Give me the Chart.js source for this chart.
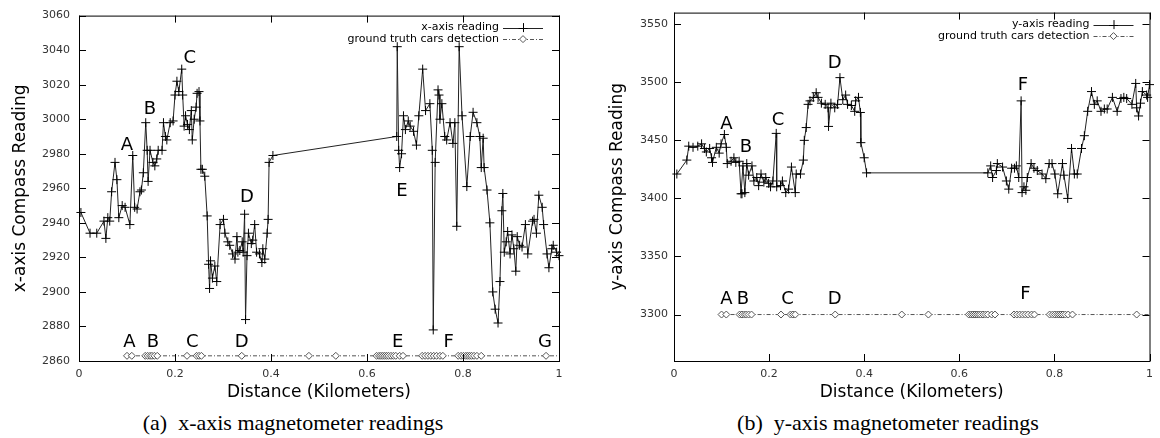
<!DOCTYPE html>
<html>
<head>
<meta charset="utf-8">
<script src="https://cdn.jsdelivr.net/npm/chart.js@4.4.1/dist/chart.umd.min.js"></script>
<style>
body { margin:0; background:#fff; width:1160px; height:438px; overflow:hidden; position:relative; }
.box { position:absolute; top:0; width:580px; height:405px; }
.cap { position:absolute; top:410px; width:580px; text-align:center; font-family:"Liberation Serif", "Times New Roman", serif; font-size:22px; color:#000; white-space:nowrap; }
</style>
</head>
<body>
<div class="box" style="left:0"><canvas id="chartX"></canvas></div>
<div class="box" style="left:580px"><canvas id="chartY"></canvas></div>
<div class="cap" style="left:3px">(a)&nbsp; x-axis magnetometer readings</div>
<div class="cap" style="left:598px">(b)&nbsp; y-axis magnetometer readings</div>
<script>
// x-axis magnetometer (distance km, reading)
const xDist = [0.004,0.023,0.037,0.052,0.056,0.060,0.064,0.068,0.075,0.079,0.083,0.090,0.096,0.106,0.112,0.116,0.121,0.127,0.130,0.134,
  0.139,0.142,0.144,0.148,0.154,0.158,0.162,0.165,0.173,0.176,0.180,0.183,0.190,0.196,0.200,0.204,0.208,0.214,0.216,0.219,
  0.222,0.226,0.230,0.234,0.236,0.240,0.244,0.246,0.250,0.252,0.254,0.257,0.262,0.267,0.270,0.272,0.274,0.278,0.283,0.287,
  0.294,0.301,0.304,0.310,0.314,0.320,0.325,0.329,0.331,0.335,0.340,0.342,0.345,0.347,0.350,0.353,0.359,0.362,0.366,0.370,
  0.376,0.381,0.383,0.387,0.392,0.394,0.396,0.404,
  0.662,0.663,0.666,0.668,0.672,0.676,0.680,0.686,0.690,0.697,0.703,0.708,0.716,0.722,0.731,0.736,0.738,0.742,0.748,0.750,
  0.752,0.756,0.762,0.766,0.773,0.779,0.783,0.787,0.792,0.798,0.808,0.815,0.821,0.829,0.835,0.838,0.842,0.844,0.850,0.856,
  0.862,0.867,0.873,0.877,0.881,0.883,0.886,0.890,0.893,0.898,0.902,0.906,0.910,0.913,0.918,0.923,0.930,0.935,0.945,0.948,
  0.953,0.958,0.965,0.968,0.975,0.979,0.985,0.988,0.995,1.000];
const xRead = [2946,2934,2934,2941,2931,2943,2941,2958,2975,2965,2943,2950,2949,2939,2979,2949,2948,2958,2959,2969,
  2998,2982,2964,2982,2975,2973,2977,2982,2982,2998,2990,2988,2998,2999,3014,3022,3016,3029,3014,2996,
  3002,2997,2994,3005,2988,3000,3007,3015,3016,2999,2971,2971,2967,2944,2916,2902,2918,2908,2915,2906,
  2939,2942,2934,2929,2927,2922,2919,2932,2923,2924,2929,2923,2945,2884,2921,2934,2928,2930,2939,2923,
  2922,2917,2925,2919,2934,2942,2975,2979,
  2990,3042,2982,2972,2980,3002,2994,2999,2996,2993,2985,3002,3029,3005,3009,2982,2878,2975,3017,3014,
  3000,3009,2990,2988,2998,2986,2998,2938,3042,3002,2961,2990,3004,2998,2990,2972,2989,2972,2959,2940,
  2900,2890,2882,2906,2947,2957,2923,2929,2935,2922,2933,2925,2912,2932,2927,2926,2939,2922,2941,2942,
  2934,2956,2949,2939,2922,2914,2925,2927,2923,2921];

// y-axis magnetometer
const yDist = [0.006,0.027,0.031,0.040,0.050,0.058,0.064,0.068,0.075,0.079,0.081,0.089,0.095,0.099,0.106,0.110,0.112,0.120,0.126,0.130,
  0.137,0.141,0.143,0.145,0.149,0.153,0.157,0.164,0.168,0.174,0.178,0.183,0.189,0.193,0.199,0.203,0.208,0.215,0.216,0.224,
  0.228,0.235,0.241,0.247,0.255,0.257,0.266,0.272,0.274,0.278,0.282,0.286,0.293,0.299,0.303,0.310,0.318,0.324,0.325,0.330,
  0.338,0.344,0.349,0.355,0.361,0.365,0.373,0.380,0.382,0.388,0.392,0.393,0.400,0.405,
  0.660,0.666,0.670,0.678,0.680,0.691,0.699,0.704,0.710,0.716,0.720,0.725,0.730,0.732,0.736,0.740,0.743,0.751,0.757,0.764,
  0.774,0.782,0.789,0.795,0.801,0.807,0.817,0.820,0.828,0.836,0.842,0.848,0.857,0.863,0.870,0.878,0.884,0.890,0.898,0.905,
  0.911,0.922,0.932,0.940,0.946,0.952,0.963,0.971,0.973,0.977,0.981,0.985,0.994,0.996,1.000];
const yRead = [3421,3433,3445,3444,3445,3447,3443,3440,3443,3435,3431,3444,3439,3447,3455,3444,3430,3432,3435,3431,
  3432,3404,3404,3428,3405,3430,3420,3428,3415,3418,3411,3421,3414,3418,3413,3410,3415,3456,3410,3411,
  3415,3405,3408,3427,3405,3421,3421,3433,3450,3461,3481,3484,3487,3491,3487,3482,3481,3478,3462,3482,
  3478,3481,3504,3485,3489,3481,3480,3475,3484,3487,3474,3448,3435,3422,
  3422,3428,3418,3424,3430,3427,3415,3408,3426,3426,3428,3418,3484,3405,3410,3407,3418,3430,3426,3424,
  3421,3417,3430,3430,3421,3404,3430,3420,3400,3443,3421,3421,3443,3454,3475,3492,3481,3484,3475,3477,
  3477,3487,3475,3486,3487,3486,3481,3499,3478,3471,3482,3492,3489,3487,3498];

// ground truth car detections (same positions on both plots)
const gtDist = [0.100,0.110,0.138,0.143,0.148,0.152,0.157,0.163,0.225,0.245,0.250,0.255,0.339,0.479,0.535,
  0.620,0.625,0.629,0.633,0.637,0.641,0.645,0.650,0.655,0.660,0.668,0.675,
  0.715,0.721,0.727,0.733,0.739,0.745,0.752,0.758,
  0.790,0.796,0.801,0.806,0.810,0.814,0.818,0.823,0.829,0.838,0.973,1.0];
const gtLevelX = 2863;
const gtLevelY = 3300;

const xTicks = [0, 0.2, 0.4, 0.6, 0.8, 1];
const yTicksX = [2860, 2880, 2900, 2920, 2940, 2960, 2980, 3000, 3020, 3040, 3060];
const yTicksY = [3300, 3350, 3400, 3450, 3500, 3550];

// letter marks (text, distance, reading)
const lettersXText = ['A','B','C','D','E','A','B','C','D','E','F','G'];
const lettersXDist = [0.100,0.148,0.231,0.350,0.673,0.105,0.154,0.236,0.339,0.664,0.770,0.971];
const lettersXVal  = [2985,3006,3035,2955,2958,2871,2871,2871,2871,2871,2871,2871];
const lettersYText = ['A','B','C','D','F','A','B','C','D','F'];
const lettersYDist = [0.110,0.151,0.219,0.338,0.734,0.110,0.145,0.239,0.338,0.739];
const lettersYVal  = [3464,3444,3467,3516,3497,3313,3313,3313,3313,3317];

const gpFont = 'DejaVu Sans';

const frame = {
  id: 'frame',
  afterDraw(chart, args, o) {
    const ctx = chart.ctx, a = chart.chartArea, sx = chart.scales.x, sy = chart.scales.y;
    ctx.save();
    ctx.strokeStyle = '#000';
    ctx.lineWidth = 1;
    ctx.strokeRect(a.left + 0.5, a.top + 0.5, a.right - a.left, a.bottom - a.top);
    ctx.beginPath();
    sx.ticks.forEach(t => {
      const p = Math.round(sx.getPixelForValue(t.value)) + 0.5;
      ctx.moveTo(p, a.bottom); ctx.lineTo(p, a.bottom - 7);
      ctx.moveTo(p, a.top); ctx.lineTo(p, a.top + 7);
    });
    sy.ticks.forEach(t => {
      const p = Math.round(sy.getPixelForValue(t.value)) + 0.5;
      ctx.moveTo(a.left, p); ctx.lineTo(a.left + 7, p);
      ctx.moveTo(a.right, p); ctx.lineTo(a.right - 7, p);
    });
    ctx.stroke();

    // letters
    ctx.fillStyle = '#000';
    ctx.font = '18px "DejaVu Sans"';
    ctx.textAlign = 'center';
    ctx.textBaseline = 'middle';
    o.text.forEach((s, i) => {
      ctx.fillText(s, sx.getPixelForValue(o.dist[i]), sy.getPixelForValue(o.val[i]));
    });

    // gnuplot style key, top right
    const ds = chart.data.datasets;
    ctx.font = '11px "' + gpFont + '"';
    ctx.textAlign = 'right';
    const tx = a.right - 60, l0 = a.right - 56, l1 = a.right - 16, lm = (l0 + l1) / 2;
    ds.forEach((d, i) => {
      const y = a.top + 12 + i * 11.5;
      ctx.fillStyle = '#000';
      ctx.fillText(d.label, tx, y);
      ctx.strokeStyle = d.borderColor;
      ctx.setLineDash(d.borderDash || []);
      ctx.beginPath();
      ctx.moveTo(l0, Math.round(y) + 0.5); ctx.lineTo(l1, Math.round(y) + 0.5);
      ctx.stroke();
      ctx.setLineDash([]);
      ctx.beginPath();
      if (i === 0) {
        ctx.strokeStyle = '#000';
        ctx.moveTo(lm - 4.5, Math.round(y) + 0.5); ctx.lineTo(lm + 4.5, Math.round(y) + 0.5);
        ctx.moveTo(lm + 0.5, y - 4.5); ctx.lineTo(lm + 0.5, y + 4.5);
        ctx.stroke();
      } else {
        ctx.fillStyle = '#fff';
        ctx.moveTo(lm, y - 3.5); ctx.lineTo(lm + 3.5, y); ctx.lineTo(lm, y + 3.5); ctx.lineTo(lm - 3.5, y);
        ctx.closePath();
        ctx.fill(); ctx.stroke();
      }
    });
    ctx.restore();
  }
};

function makeChart(id, dist, vals, label, gtLevel, yMin, yMax, yTicks, yTitle, cfg, letters) {
  const pts = dist.map((d, i) => ({x: d, y: vals[i]}));
  const gt = gtDist.map(d => ({x: d, y: gtLevel}));
  return new Chart(document.getElementById(id), {
    type: 'scatter',
    data: {
      datasets: [{
        label: label,
        data: pts,
        showLine: true,
        borderColor: '#222',
        borderWidth: 1,
        pointStyle: 'cross',
        pointRadius: 4.5,
        pointBorderColor: '#000',
        pointBorderWidth: 1,
        clip: false
      }, {
        label: 'ground truth cars detection',
        data: gt,
        showLine: true,
        borderColor: '#555',
        borderWidth: 1,
        borderDash: [4, 2, 1, 2],
        pointStyle: 'rectRot',
        pointRadius: ctx => ctx.dataIndex === gtDist.length - 1 ? 0 : 3.5,
        pointBackgroundColor: '#fff',
        pointBorderColor: '#555',
        pointBorderWidth: 1,
        clip: 0
      }]
    },
    options: {
      responsive: true,
      maintainAspectRatio: false,
      animation: false,
      layout: {padding: {top: cfg.top, right: cfg.right, bottom: 0, left: 0}},
      plugins: {
        legend: {display: false},
        tooltip: {enabled: false},
        frame: letters
      },
      scales: {
        x: {
          type: 'linear', min: 0, max: 1,
          afterBuildTicks: s => { s.ticks = xTicks.map(v => ({value: v})); },
          afterFit: s => { s.height = 44; },
          grid: {display: false, drawTicks: false},
          border: {display: false},
          ticks: {padding: 7, color: '#333', font: {family: gpFont, size: 11}, callback: v => String(v)},
          title: {display: true, text: 'Distance (Kilometers)', color: '#000', font: {family: gpFont, size: 17}, padding: {top: 0, bottom: 2}}
        },
        y: {
          min: yMin, max: yMax,
          afterBuildTicks: s => { s.ticks = yTicks.map(v => ({value: v})); },
          afterFit: s => { s.width = cfg.yWidth; },
          grid: {display: false, drawTicks: false},
          border: {display: false},
          ticks: {padding: cfg.tickPad, color: '#333', font: {family: gpFont, size: 11}, callback: v => String(v)},
          title: {display: true, text: yTitle, color: '#000', font: {family: gpFont, size: 17}, padding: {top: cfg.titlePad, bottom: 0}}
        }
      }
    },
    plugins: [frame]
  });
}

makeChart('chartX', xDist, xRead, 'x-axis reading', gtLevelX, 2860, 3060, yTicksX, 'x-axis Compass Reading',
  {top: 11, right: 21, yWidth: 79, tickPad: 9, titlePad: 10},
  {text: lettersXText, dist: lettersXDist, val: lettersXVal});
makeChart('chartY', yDist, yRead, 'y-axis reading', gtLevelY, 3260, 3560, yTicksY, 'y-axis Compass Reading',
  {top: 12, right: 4, yWidth: 94, tickPad: 6, titlePad: 27},
  {text: lettersYText, dist: lettersYDist, val: lettersYVal});
</script>
</body>
</html>
